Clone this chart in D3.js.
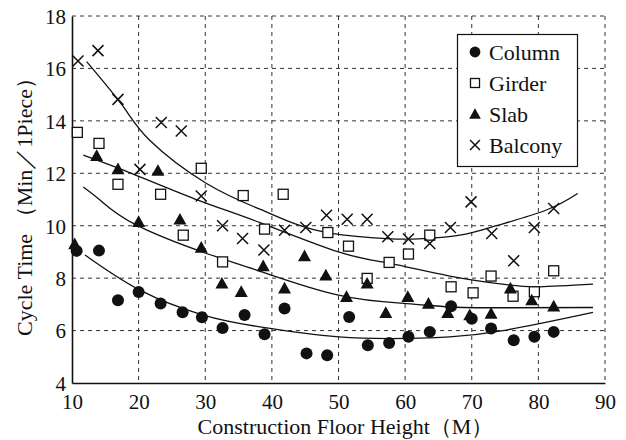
<!DOCTYPE html>
<html><head><meta charset="utf-8">
<script src="https://cdn.jsdelivr.net/npm/d3@7"></script>
<style>
html,body{margin:0;padding:0;background:#fff;}
text{font-family:"Liberation Serif","Times New Roman",serif;fill:#111;}
</style></head>
<body><svg id="chart" width="626" height="440"></svg>
<script>
// ---------- data ----------
const xTicks = [10,20,30,40,50,60,70,80,90];
const yTicks = [4,6,8,10,12,14,16,18];
const seriesNames = ["Column","Girder","Slab","Balcony"];

const columnPts = [[10.7,9.04],[14.05,9.05],[16.9,7.16],[20.0,7.47],[23.3,7.03],[26.6,6.70],[29.5,6.51],[32.6,6.10],[35.9,6.59],[38.9,5.86],[41.9,6.84],[45.2,5.13],[48.3,5.06],[51.6,6.52],[54.4,5.44],[57.6,5.53],[60.5,5.76],[63.7,5.95],[66.9,6.93],[70.0,6.45],[72.9,6.08],[76.3,5.63],[79.4,5.76],[82.3,5.95]];
const girderPts = [[10.8,13.56],[14.05,13.14],[16.9,11.58],[23.3,11.2],[26.7,9.64],[29.4,12.19],[32.6,8.62],[35.7,11.15],[38.9,9.87],[41.7,11.2],[48.4,9.74],[51.5,9.22],[54.3,7.99],[57.6,8.6],[60.5,8.92],[63.7,9.64],[66.9,7.67],[70.2,7.44],[72.9,8.08],[76.2,7.31],[79.4,7.48],[82.3,8.28]];
const slabPts = [[10.4,9.3],[13.7,12.67],[16.9,12.16],[20.0,10.15],[22.9,12.1],[26.2,10.24],[29.4,9.17],[32.5,7.8],[35.4,7.48],[38.7,8.46],[41.9,7.61],[44.9,8.84],[48.1,8.11],[51.2,7.29],[54.3,7.8],[57.1,6.68],[60.4,7.29],[63.5,7.03],[66.4,6.68],[69.7,6.59],[72.9,6.65],[75.8,7.61],[79.0,7.16],[82.3,6.93]];
const balconyPts = [[10.9,16.28],[13.9,16.68],[16.9,14.82],[20.2,12.15],[23.4,13.94],[26.4,13.61],[29.4,11.13],[32.6,10.0],[35.6,9.51],[38.8,9.07],[41.9,9.83],[45.1,9.93],[48.2,10.4],[51.3,10.25],[54.3,10.25],[57.4,9.58],[60.5,9.49],[63.7,9.32],[66.8,9.93],[69.9,10.91],[73.0,9.7],[76.3,8.66],[79.4,9.93],[82.3,10.66]];

// fitted trend curves
const balconyFit = [[12.2,16.26],[17.7,14.54],[21.7,13.25],[30.2,11.61],[38.2,10.63],[43.3,10.09],[49.2,9.7],[57.2,9.51],[62,9.5],[68.2,9.64],[73.7,10.0],[81.2,10.6],[85.9,11.23]];
const girderFit = [[11.7,12.69],[19.2,11.97],[28.9,10.98],[38.2,10.12],[50,9.0],[57.7,8.56],[66.7,8.08],[75.2,7.75],[80.2,7.67],[88.2,7.77]];
const slabFit = [[11.7,11.48],[14.2,10.98],[19.7,10.02],[30.2,8.94],[37.7,8.31],[50,7.35],[60.2,7.03],[66.7,6.9],[75,6.87],[88.2,6.88]];
const columnFit = [[11.95,8.88],[20.2,7.54],[29.7,6.59],[38.2,6.14],[50,5.76],[60.2,5.7],[66.7,5.76],[75.2,6.02],[88.2,6.69]];

// ---------- drawing ----------
const svg = d3.select("#chart");
const x = d3.scaleLinear().domain([10,90]).range([72,605]);
const y = d3.scaleLinear().domain([4,18]).range([383,16]);
const ink = "#111";

// grid
const grid = svg.append("g").attr("stroke","#333").attr("stroke-width",1).attr("stroke-dasharray","4,4").attr("fill","none");
grid.selectAll("line.v").data(xTicks.slice(1)).join("line")
  .attr("x1",d=>x(d)).attr("x2",d=>x(d)).attr("y1",y(18)).attr("y2",y(4));
grid.selectAll("line.h").data(yTicks.slice(1)).join("line")
  .attr("x1",x(10)).attr("x2",x(90)).attr("y1",d=>y(d)).attr("y2",d=>y(d));

// axes
const xAxis = d3.axisBottom(x).tickValues(xTicks).tickSize(0).tickPadding(9).tickFormat(d3.format("d"));
const yAxis = d3.axisLeft(y).tickValues(yTicks).tickSize(0).tickPadding(6).tickFormat(d3.format("d"));
const gx = svg.append("g").attr("transform",`translate(0,${y(4)})`).call(xAxis);
const gy = svg.append("g").attr("transform",`translate(${x(10)},0)`).call(yAxis);
[gx,gy].forEach(g=>{
  g.select(".domain").attr("stroke",ink).attr("stroke-width",1.6);
  g.selectAll("text").attr("font-size",21).attr("font-family","Liberation Serif").attr("fill",ink);
});
gx.selectAll("text").attr("dy","0.8em");
gy.selectAll("text").attr("dy","0.35em");

// axis titles
svg.append("text").attr("x",(x(10)+x(90))/2+7).attr("y",434).attr("text-anchor","middle")
  .attr("font-size",22).text("Construction Floor Height\uFF08M\uFF09");
svg.append("text").attr("transform",`translate(32,${(y(4)+y(18))/2+2}) rotate(-90)`).attr("text-anchor","middle")
  .attr("font-size",22).text("Cycle Time \uFF08Min\uFF0F1Piece\uFF09");

// trend curves
const line = d3.line().x(d=>x(d[0])).y(d=>y(d[1])).curve(d3.curveNatural);
[balconyFit,girderFit,slabFit,columnFit].forEach(f=>{
  svg.append("path").datum(f).attr("d",line).attr("fill","none").attr("stroke",ink).attr("stroke-width",1.3);
});

// marker drawers
function drawMarker(g, type, cx, cy, s){
  if(type==="Column"){
    g.append("circle").attr("cx",cx).attr("cy",cy).attr("r",6*s).attr("fill",ink);
  } else if(type==="Girder"){
    const h=5*s;
    g.append("rect").attr("x",cx-h).attr("y",cy-h).attr("width",2*h).attr("height",2*h)
      .attr("fill","#fff").attr("stroke",ink).attr("stroke-width",1.3);
  } else if(type==="Slab"){
    const h=6.5*s;
    g.append("path").attr("d",`M${cx},${cy-h}L${cx+h},${cy+h*0.8}L${cx-h},${cy+h*0.8}Z`).attr("fill",ink);
  } else {
    const h=5.5*s;
    g.append("path").attr("d",`M${cx-h},${cy-h}L${cx+h},${cy+h}M${cx-h},${cy+h}L${cx+h},${cy-h}`)
      .attr("stroke",ink).attr("stroke-width",1.5).attr("fill","none");
  }
}
const allSeries = [columnPts,girderPts,slabPts,balconyPts];
allSeries.forEach((pts,i)=>{
  const g = svg.append("g");
  pts.forEach(p=>drawMarker(g, seriesNames[i], x(p[0]), y(p[1]), 1));
});

// legend
const lg = svg.append("g");
lg.append("rect").attr("x",457.5).attr("y",34.5).attr("width",120).attr("height",132)
  .attr("fill","#fff").attr("stroke",ink).attr("stroke-width",1.2);
const legY = [52,83,114,145];
seriesNames.forEach((n,i)=>{
  drawMarker(lg, n, 475, legY[i], 0.9);
  lg.append("text").attr("x",489).attr("y",legY[i]).attr("dy","0.35em").attr("font-size",22).text(n);
});
</script></body></html>
